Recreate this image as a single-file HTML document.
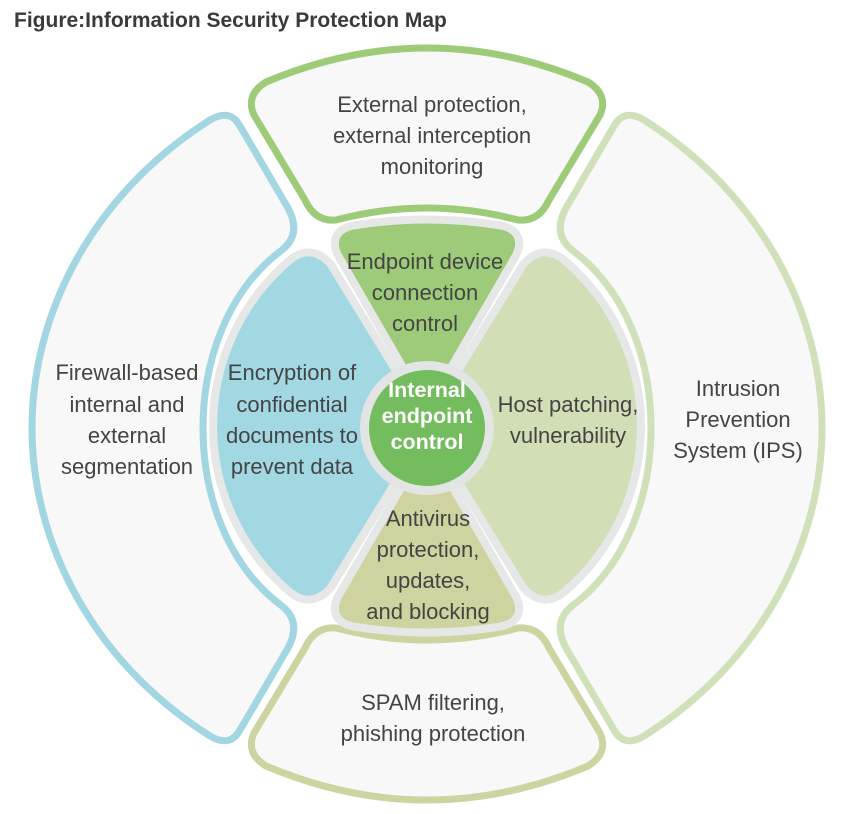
<!DOCTYPE html>
<html><head><meta charset="utf-8"><style>
html,body{margin:0;padding:0;background:#fff;}
svg{display:block;}
text{font-family:"Liberation Sans",Arial,sans-serif;}
</style></head><body>
<svg width="852" height="814" viewBox="0 0 852 814" xmlns="http://www.w3.org/2000/svg">
<text x="14" y="27" font-size="21" font-weight="bold" fill="#3a3a3a">Figure:Information Security Protection Map</text>

<g fill="#f8f8f8" stroke-width="7" stroke-linejoin="round">
<path stroke="#9dcb77" d="M 266,82 Q 427,14 588,82 Q 609,95 600,115 L 549,200 Q 539,222 518,220 Q 427,196 336,220 Q 315,222 305,200 L 254,115 Q 245,95 266,82 Z"/>
<path stroke="#cdd4a0" d="M 266,766 Q 427,834 588,766 Q 609,753 600,733 L 549,648 Q 539,626 518,628 Q 427,652 336,628 Q 315,626 305,648 L 254,733 Q 245,753 266,766 Z"/>
<path stroke="#a2d6e2" d="M 210,120 Q 230,108 240,126 L 288,208 Q 302,234 282,250 C 228,290 203,360 203,428 C 203,496 228,566 282,606 Q 302,622 288,648 L 240,730 Q 230,748 210,736 C 90,660 32,540 32,428 C 32,316 90,196 210,120 Z"/>
<path stroke="#d0e0b8" d="M 644,120 Q 624,108 614,126 L 566,208 Q 552,234 572,250 C 626,290 651,360 651,428 C 651,496 626,566 572,606 Q 552,622 566,648 L 614,730 Q 624,748 644,736 C 764,660 822,540 822,428 C 822,316 764,196 644,120 Z"/>
</g>

<g fill="#e6e7e7" stroke="#e6e7e7" stroke-width="20" stroke-linejoin="round">
<path d="M 326,268 L 410,405 L 410,447 L 326,584 Q 310,602 292,586 A 212 212 0 0 1 292,266 Q 310,250 326,268 Z"/>
<path d="M 528,268 L 444,405 L 444,447 L 528,584 Q 544,602 562,586 A 212 212 0 0 0 562,266 Q 544,250 528,268 Z"/>
<path d="M 343,252 L 420,385 L 434,385 L 511,252 Q 519,234 497,231 Q 427,220 357,231 Q 335,234 343,252 Z"/>
<path d="M 343,600 L 420,467 L 434,467 L 511,600 Q 519,618 497,621 Q 427,632 357,621 Q 335,618 343,600 Z"/>
</g>
<g stroke-width="4" stroke-linejoin="round">
<path fill="#a1d8e2" stroke="#a1d8e2" d="M 326,268 L 410,405 L 410,447 L 326,584 Q 310,602 292,586 A 212 212 0 0 1 292,266 Q 310,250 326,268 Z"/>
<path fill="#d2dfb6" stroke="#d2dfb6" d="M 528,268 L 444,405 L 444,447 L 528,584 Q 544,602 562,586 A 212 212 0 0 0 562,266 Q 544,250 528,268 Z"/>
<path fill="#9ecb7a" stroke="#9ecb7a" d="M 343,252 L 420,385 L 434,385 L 511,252 Q 519,234 497,231 Q 427,220 357,231 Q 335,234 343,252 Z"/>
<path fill="#cfd3a0" stroke="#cfd3a0" d="M 343,600 L 420,467 L 434,467 L 511,600 Q 519,618 497,621 Q 427,632 357,621 Q 335,618 343,600 Z"/>
</g>

<circle cx="427" cy="428" r="67" fill="#e3e4e4"/>
<circle cx="427" cy="428" r="58" fill="#74bd5f"/>
<g fill="#fff" font-size="21.5" font-weight="bold" text-anchor="middle">
<text x="427" y="397">Internal</text>
<text x="427" y="423">endpoint</text>
<text x="427" y="449">control</text>
</g>

<g fill="#444" font-size="22" text-anchor="middle">
<text x="432" y="112">External protection,</text>
<text x="432" y="143">external interception</text>
<text x="432" y="174">monitoring</text>

<text x="127" y="380">Firewall-based</text>
<text x="127" y="412">internal and</text>
<text x="127" y="443">external</text>
<text x="127" y="474">segmentation</text>

<text x="292" y="380">Encryption of</text>
<text x="292" y="412">confidential</text>
<text x="292" y="443">documents to</text>
<text x="292" y="474">prevent data</text>

<text x="425" y="269">Endpoint device</text>
<text x="425" y="300">connection</text>
<text x="425" y="331">control</text>

<text x="568" y="412">Host patching,</text>
<text x="568" y="443">vulnerability</text>

<text x="738" y="396">Intrusion</text>
<text x="738" y="427">Prevention</text>
<text x="738" y="458">System (IPS)</text>

<text x="428" y="526">Antivirus</text>
<text x="428" y="557">protection,</text>
<text x="428" y="588">updates,</text>
<text x="428" y="619">and blocking</text>

<text x="433" y="710">SPAM filtering,</text>
<text x="433" y="741">phishing protection</text>
</g>
</svg>
</body></html>
